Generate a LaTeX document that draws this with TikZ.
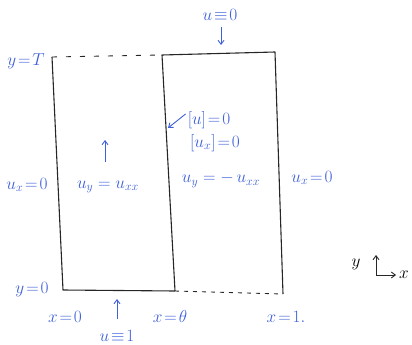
\documentclass[tikz,border=0pt]{standalone}
\usepackage{amsmath,amssymb}
\usepackage{xcolor}
\usepackage{tikz}
\usetikzlibrary{positioning,arrows.meta,calc}
\definecolor{ink}{RGB}{62,95,218}

\begin{document}
\begin{tikzpicture}[x=1pt,y=-1pt,
  wall/.style={black!85,line width=1.1pt,line join=round},
  gap/.style={black!85,line width=0.9pt,dash pattern=on 5pt off 9pt},
  lbl/.style={text=ink,inner sep=0pt,font=\fontsize{18}{21}\selectfont},
  pt/.style={ink,line width=0.9pt,-{Straight Barb[length=4pt,width=6pt]}}]
\useasboundingbox (0,0) rectangle (412,345);
% corners of the two strips
\coordinate (tl) at (52,57);
\coordinate (tm) at (162,55);
\coordinate (tr) at (275,52);
\coordinate (bl) at (63,290);
\coordinate (bm) at (175,291);
\coordinate (br) at (283,294);
% strips
\draw[wall] (tl) -- (bl) -- (bm);
\draw[wall] (bm) -- (tm) -- (tr) -- (br);
\draw[gap] (tl) -- (tm);
\draw[gap,dash pattern=on 4pt off 5pt] (bm) -- (br);
% labels on the left
\node[lbl] (yT) at (26,61) {$y\!=\!T$};
\node[lbl] (uxL) at (27,185) {$u_x\!=\!0$};
\node[lbl] (y0) at (32,290) {$y\!=\!0$};
% top condition
\node[lbl] (utop) at (220,15) {$u\!\equiv\! 0$};
\coordinate (utopend) at (221,45);
\draw[pt] (221,27) -- (utopend);
% interface conditions
\node[lbl] (jmpu) at (209,120) {$[u]\!=\!0$};
\node[lbl] (jmpux) at (215,143) {$[u_x]\!=\!0$};
\coordinate (jmpend) at (168,128);
\draw[pt] (jmpu.west) ++(-2,-6) -- (jmpend);
% equations in the strips
\node[lbl] (eqL) at (108,187) {$u_y = u_{xx}$};
\coordinate (eqLtip) at (105,140);
\draw[pt] (105,162) -- (eqLtip);
\node[lbl] (eqR) at (221,180) {$u_y = -\,u_{xx}$};
\node[lbl] (uxR) at (312,178) {$u_x\!=\!0$};
% bottom
\node[lbl] (x0) at (65,317) {$x\!=\!0$};
\node[lbl] (ubot) at (117,336) {$u\!\equiv\! 1$};
\coordinate (ubottip) at (117,299);
\draw[pt] (117,319) -- (ubottip);
\node[lbl] (xth) at (170,316) {$x\!=\!\theta$};
\node[lbl] (x1) at (286,317) {$x\!=\!1.$};
% axes
\coordinate (o) at (376,275);
\coordinate (oy) at (376,255);
\coordinate (ox) at (396,275);
\draw[black!85,line width=0.9pt,{Straight Barb[length=4pt,width=6pt]}-{Straight Barb[length=4pt,width=6pt]}] (oy) -- (o) -- (ox);
\node[lbl,text=black] (ylab) at (356,264) {$y$};
\node[lbl,text=black] (xlab) at (404,275) {$x$};
\end{tikzpicture}
\end{document}
